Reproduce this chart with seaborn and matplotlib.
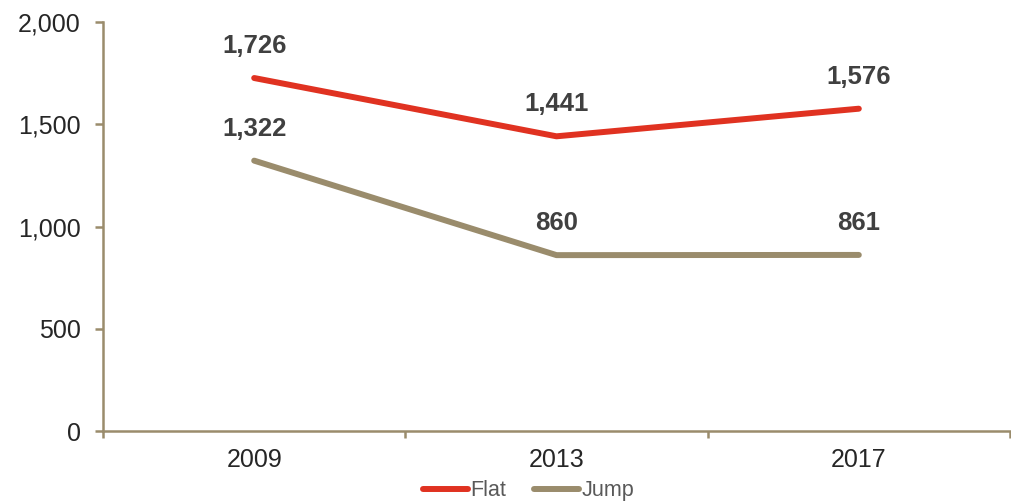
import pandas as pd
import matplotlib.pyplot as plt
import seaborn as sns
from matplotlib.ticker import FuncFormatter, FixedLocator

# data
years = ["2009", "2013", "2017"]
flat = [1726, 1441, 1576]
jump = [1322, 860, 861]
series_names = ["Flat", "Jump"]
colors = {"Flat": "#E03221", "Jump": "#9A8C6C"}
axis_color = "#9A8C6C"

sns.set_style("white")
plt.rcParams['font.family'] = ['Liberation Sans', 'DejaVu Sans']

df = pd.DataFrame({
    "pos": list(range(len(years))) * 2,
    "value": flat + jump,
    "series": [series_names[0]] * len(flat) + [series_names[1]] * len(jump),
})

fig = plt.figure(figsize=(10.12, 5.03), dpi=100)
ax = fig.add_axes([0.1018, 0.1431, 0.8962, 0.8132])

sns.lineplot(data=df, x="pos", y="value", hue="series", palette=colors,
             linewidth=4.3, ax=ax, legend=True)

# data labels
for _, row in df.iterrows():
    ax.annotate(f"{row['value']:,}", (row["pos"], row["value"]),
                xytext=(0, 23), textcoords="offset points",
                ha="center", va="center", fontsize=18.5, fontweight="bold",
                color="#404040")

ax.set_xlim(-0.5, len(years) - 0.5)
ax.set_ylim(0, 2000)
ax.set_yticks([0, 500, 1000, 1500, 2000])
ax.yaxis.set_major_formatter(FuncFormatter(lambda v, p: f"{int(v):,}"))

ax.set_xticks(range(len(years)))
ax.set_xticklabels(years)
ax.xaxis.set_minor_locator(FixedLocator([i - 0.5 for i in range(len(years) + 1)]))
ax.tick_params(axis="x", which="major", bottom=True, length=0, pad=12, labelsize=18)
ax.tick_params(axis="x", which="minor", bottom=True, length=5, width=1.8,
               color=axis_color, direction="out")
ax.tick_params(axis="y", which="major", left=True, length=6, width=1.8,
               color=axis_color, direction="out", pad=10, labelsize=18)

for side in ["top", "right"]:
    ax.spines[side].set_visible(False)
for side in ["left", "bottom"]:
    ax.spines[side].set_color(axis_color)
    ax.spines[side].set_linewidth(1.8)

ax.set_xlabel("")
ax.set_ylabel("")
ax.grid(False)

handles, labels = ax.get_legend_handles_labels()
leg = fig.legend(handles, labels, loc="center", bbox_to_anchor=(0.522, 0.024),
                 ncol=2, frameon=False, fontsize=15.5, handlelength=2.1,
                 handletextpad=0.1, columnspacing=1.3)
for t in leg.get_texts():
    t.set_color("#595959")
ax.get_legend().remove()

plt.savefig("out.png", dpi=100)
